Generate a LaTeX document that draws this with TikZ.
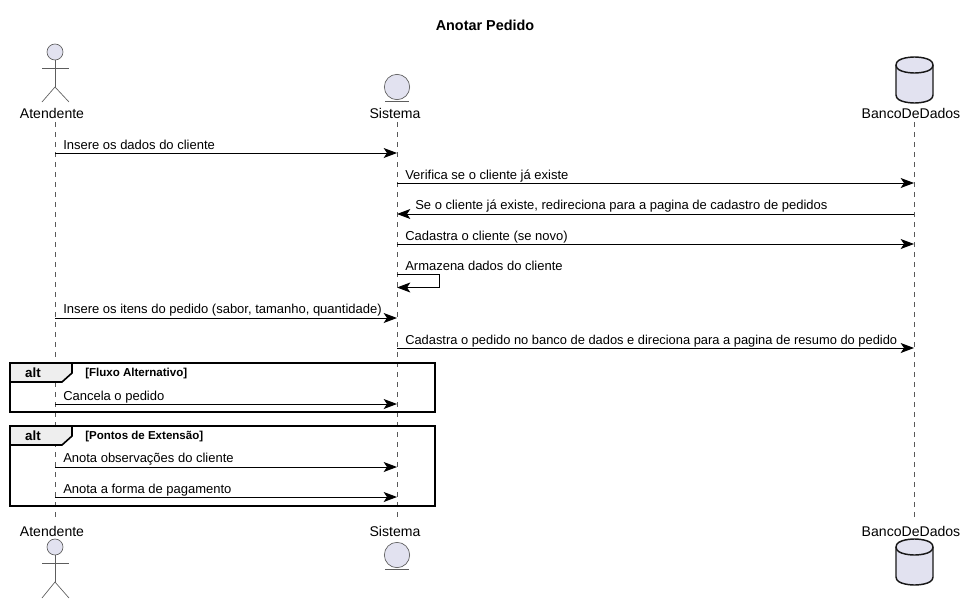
\documentclass[tikz,border=0pt]{standalone}
\usepackage{fontspec}
\setmainfont{Liberation Sans}
\usetikzlibrary{arrows.meta}
\definecolor{partfill}{HTML}{E2E2F0}
\definecolor{partline}{HTML}{181818}
\definecolor{tabfill}{HTML}{EEEEEE}
\tikzstyle{lifeline}=[
    draw = black!65,
    line width = 0.6pt,
    dash pattern = on 3.75pt off 3.75pt
]
\tikzstyle{msg}=[
    draw = black,
    line width = 0.75pt,
    -{Stealth[length = 10pt, width = 7.5pt, inset = 2.5pt]}
]
\tikzstyle{msg text}=[
    anchor = base west,
    inner sep = 0pt,
    font = \fontsize{9.74pt}{11pt}\selectfont
]
\tikzstyle{part text}=[
    inner sep = 0pt,
    font = \fontsize{10.55pt}{12pt}\selectfont
]
\tikzstyle{frame}=[
    draw = black,
    line width = 1.5pt
]
\tikzstyle{tab}=[
    draw = black,
    line width = 1.2pt,
    fill = tabfill
]
\tikzstyle{alt text}=[
    inner sep = 0pt,
    font = \fontsize{10pt}{11pt}\selectfont\bfseries
]
\tikzstyle{guard text}=[
    anchor = base west,
    inner sep = 0pt,
    font = \fontsize{8.65pt}{10pt}\selectfont\bfseries
]
\tikzstyle{head}=[
    draw = partline!70,
    line width = 0.5pt,
    fill = partfill,
    circle,
    inner sep = 0pt,
    minimum size = 12pt
]
\tikzstyle{entity}=[
    draw = partline!70,
    line width = 0.5pt,
    fill = partfill,
    circle,
    inner sep = 0pt,
    minimum size = 19pt
]
\tikzstyle{stick}=[
    draw = partline!70,
    line width = 0.5pt
]
\tikzstyle{drum}=[
    draw = partline,
    line width = 1.1pt,
    fill = partfill
]

\begin{document}
\begin{tikzpicture}[x=0.75pt, y=-0.75pt]
    \useasboundingbox[fill = white] (0,0) rectangle (967,603);

    \node[font = \fontsize{10.8pt}{12pt}\selectfont\bfseries, inner sep = 0pt] (title) at (485,25) {Anotar Pedido};

    % lifelines
    \coordinate (atop) at (55,122);
    \coordinate (abot) at (55,520);
    \coordinate (stop) at (397,122);
    \coordinate (sbot) at (397,520);
    \coordinate (btop) at (914,122);
    \coordinate (bbot) at (914,520);
    \draw[lifeline] (atop) -- (abot);
    \draw[lifeline] (stop) -- (sbot);
    \draw[lifeline] (btop) -- (bbot);

    % participants, top and bottom
    \foreach \nm/\ya/\yc/\yd/\ye/\yt/\ys/\yu/\yv/\yw in {t/52/68/87/102/113/87/101/57/103, u/547/563/582/598/531/555/569/539/585}{
        \node[head] (head\nm) at (55,\ya) {};
        \coordinate (hip\nm) at (55,\yd);
        \coordinate (arml\nm) at (42,\yc);
        \coordinate (armr\nm) at (69,\yc);
        \coordinate (legl\nm) at (42,\ye);
        \coordinate (legr\nm) at (69,\ye);
        \draw[stick] (head\nm) -- (hip\nm);
        \draw[stick] (arml\nm) -- (armr\nm);
        \draw[stick] (legl\nm) -- (hip\nm) -- (legr\nm);
        \node[part text] (atend\nm) at (52,\yt) {Atendente};

        \node[entity] (ent\nm) at (397,\ys) {};
        \coordinate (entl\nm) at (385,\yu);
        \coordinate (entr\nm) at (409,\yu);
        \draw[stick] (entl\nm) -- (entr\nm);
        \node[part text] (sist\nm) at (395,\yt) {Sistema};

        \draw[drum] (896,\yv+8) .. controls (896,\yv) and (914,\yv) .. (914.5,\yv)
            .. controls (915,\yv) and (933,\yv) .. (933,\yv+8)
            -- (933,\yw-8) .. controls (933,\yw) and (915,\yw) .. (914.5,\yw)
            .. controls (914,\yw) and (896,\yw) .. (896,\yw-8) -- cycle;
        \draw[drum, fill = none] (896,\yv+8) .. controls (896,\yv+16) and (914,\yv+16) .. (914.5,\yv+16)
            .. controls (915,\yv+16) and (933,\yv+16) .. (933,\yv+8);
        \node[part text] (banco\nm) at (911,\yt) {BancoDeDados};
    }

    % alt frames
    \draw[frame] (10,363) rectangle (435,412);
    \draw[tab] (10,363) -- (72,363) -- (72,373) -- (62,382) -- (10,382) -- cycle;
    \node[alt text] (alt1) at (33,373) {alt};
    \node[guard text] (guard1) at (85,376.5) {[Fluxo Alternativo]};

    \draw[frame] (10,426) rectangle (435,506);
    \draw[tab] (10,426) -- (72,426) -- (72,436) -- (62,445) -- (10,445) -- cycle;
    \node[alt text] (alt2) at (33,436) {alt};
    \node[guard text] (guard2) at (85,439.5) {[Pontos de Extensão]};

    % messages
    \coordinate (a1) at (55,153);
    \coordinate (s1) at (397,153);
    \coordinate (s2) at (397,183);
    \coordinate (b2) at (914,183);
    \coordinate (b3) at (914,214);
    \coordinate (s3) at (397,214);
    \coordinate (s4) at (397,244);
    \coordinate (b4) at (914,244);
    \coordinate (s5) at (397,274.5);
    \coordinate (c5) at (439,274.5);
    \coordinate (d5) at (439,287.5);
    \coordinate (e5) at (397,287.5);
    \coordinate (a6) at (55,318);
    \coordinate (s6) at (397,318);
    \coordinate (s7) at (397,348);
    \coordinate (b7) at (914,348);
    \coordinate (a8) at (55,404);
    \coordinate (s8) at (397,404);
    \coordinate (a9) at (55,467);
    \coordinate (s9) at (397,467);
    \coordinate (a10) at (55,497);
    \coordinate (s10) at (397,497);

    \draw[msg] (a1) -- (s1);
    \draw[msg] (s2) -- (b2);
    \draw[msg] (b3) -- (s3);
    \draw[msg] (s4) -- (b4);
    \draw[msg] (s5) -- (c5) -- (d5) -- (e5);
    \draw[msg] (a6) -- (s6);
    \draw[msg] (s7) -- (b7);
    \draw[msg] (a8) -- (s8);
    \draw[msg] (a9) -- (s9);
    \draw[msg] (a10) -- (s10);

    \node[msg text] (m1) at (63,149) {Insere os dados do cliente};
    \node[msg text] (m2) at (405,179) {Verifica se o cliente já existe};
    \node[msg text] (m3) at (415,209) {Se o cliente já existe, redireciona para a pagina de cadastro de pedidos};
    \node[msg text] (m4) at (405,240) {Cadastra o cliente (se novo)};
    \node[msg text] (m5) at (405,270) {Armazena dados do cliente};
    \node[msg text] (m6) at (63,313) {Insere os itens do pedido (sabor, tamanho, quantidade)};
    \node[msg text, font = \fontsize{9.66pt}{11pt}\selectfont] (m7) at (405,344) {Cadastra o pedido no banco de dados e direciona para a pagina de resumo do pedido};
    \node[msg text] (m8) at (63,400) {Cancela o pedido};
    \node[msg text] (m9) at (63,462) {Anota observações do cliente};
    \node[msg text] (m10) at (63,493) {Anota a forma de pagamento};
\end{tikzpicture}
\end{document}
